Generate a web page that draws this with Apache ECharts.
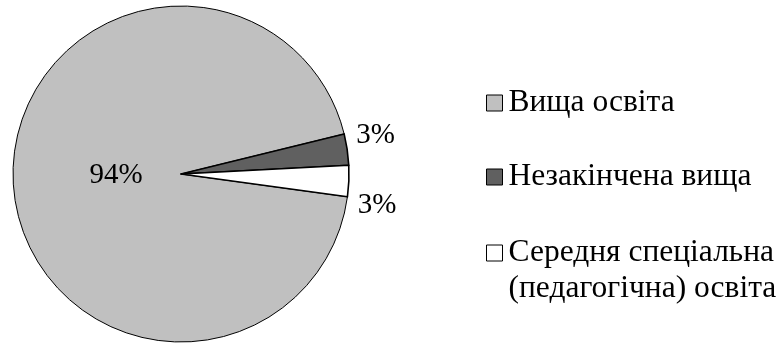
<!DOCTYPE html>
<html>
<head>
<meta charset="utf-8">
<script src="https://cdn.jsdelivr.net/npm/echarts@6/dist/echarts.min.js"></script>
<style>
  html, body { margin: 0; padding: 0; background: #ffffff; }
  #chart { width: 784px; height: 343px; }
</style>
</head>
<body>
<div id="chart"></div>
<script>
// Education level shares (percent)
const categories = [
  'Вища освіта',
  'Незакінчена вища',
  'Середня спеціальна\n(педагогічна) освіта'
];
const shares = [94, 3, 3];
const sliceColors = ['#c0c0c0', '#606060', '#ffffff'];

const FONT = 'Liberation Serif';
const LABEL_SIZE = 29;
const LEGEND_SIZE = 31.5;
const LEGEND_LINE = 36;

// label nudges after the pie's own label placement
const labelShift = [
  { dx: 22, dy: -3 },
  { dx: 4, dy: -14 },
  { dx: 4, dy: 24 }
];

const chart = echarts.init(document.getElementById('chart'), null, { renderer: 'canvas' });

const pieData = categories.map((name, i) => ({
  name: name,
  value: shares[i],
  itemStyle: { color: sliceColors[i], borderWidth: i === 0 ? 1 : 1.6 },
  label: { position: i === 0 ? 'inside' : 'outside' }
}));

const legendBase = {
  orient: 'vertical',
  left: 486,
  padding: 0,
  itemWidth: 16,
  itemHeight: 16,
  icon: 'rect',
  itemStyle: { borderColor: '#000000', borderWidth: 1 },
  selectedMode: false,
  textStyle: {
    fontFamily: FONT,
    fontSize: LEGEND_SIZE,
    color: '#000000',
    lineHeight: LEGEND_LINE,
    padding: [0, 0, 0, 1]
  }
};

chart.setOption({
  animation: false,
  backgroundColor: '#ffffff',
  legend: [
    Object.assign({}, legendBase, {
      data: [categories[0], categories[1]],
      top: 85,
      itemGap: 38
    }),
    Object.assign({}, legendBase, {
      data: [categories[2]],
      top: 199,
      // a blank lead line keeps the first text line level with the marker
      formatter: function (name) { return ' \n' + name; }
    })
  ],
  series: [{
    type: 'pie',
    center: [181, 174],
    radius: 168,
    startAngle: 352.2,
    clockwise: true,
    avoidLabelOverlap: false,
    itemStyle: { borderColor: '#000000', borderWidth: 1 },
    emphasis: { disabled: true },
    label: {
      show: true,
      formatter: '{c}%',
      fontFamily: FONT,
      fontSize: LABEL_SIZE,
      color: '#000000',
      distanceToLabelLine: 5
    },
    labelLine: { show: false, length: 0, length2: 0 },
    labelLayout: function (p) {
      return labelShift[p.dataIndex];
    },
    data: pieData
  }]
});
</script>
</body>
</html>
